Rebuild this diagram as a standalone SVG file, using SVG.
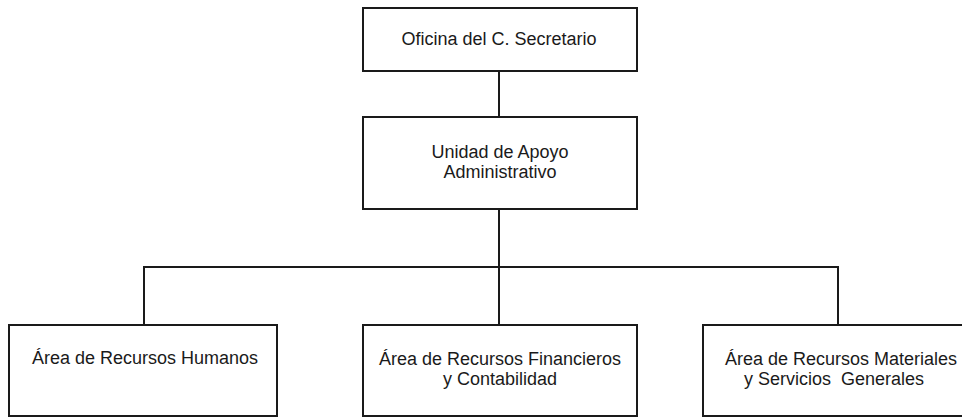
<svg xmlns="http://www.w3.org/2000/svg" width="962" height="418" viewBox="0 0 962 418">
<style>
.box{fill:#fff;stroke:#1a1a1a;stroke-width:2}
.ln{fill:none;stroke:#1a1a1a;stroke-width:2}
text{font-family:"Liberation Sans",Arial,sans-serif;font-size:18px;fill:#1a1a1a;text-anchor:middle}
</style>
<rect width="962" height="418" fill="#fff"/>
<g id="connectors">
<line class="ln" x1="499" y1="71" x2="499" y2="117"/>
<line class="ln" x1="499" y1="209" x2="499" y2="325"/>
<polyline class="ln" points="144,325 144,267 838,267 838,325"/>
</g>
<g id="n1">
<rect class="box" x="363" y="8" width="274" height="63"/>
<text x="499" y="45">Oficina del C. Secretario</text>
</g>
<g id="n2">
<rect class="box" x="363" y="117" width="274" height="92"/>
<text x="500" y="158">Unidad de Apoyo</text>
<text x="500" y="178">Administrativo</text>
</g>
<g id="n3">
<rect class="box" x="9" y="325" width="268" height="91"/>
<text x="145" y="364">Área de Recursos Humanos</text>
</g>
<g id="n4">
<rect class="box" x="363" y="325" width="274" height="91"/>
<text x="500" y="365">Área de Recursos Financieros</text>
<text x="500" y="385">y Contabilidad</text>
</g>
<g id="n5">
<rect class="box" x="703" y="325" width="280" height="91"/>
<text x="841" y="365">Área de Recursos Materiales</text>
<text x="834" y="385" xml:space="preserve">y Servicios  Generales</text>
</g>
</svg>
